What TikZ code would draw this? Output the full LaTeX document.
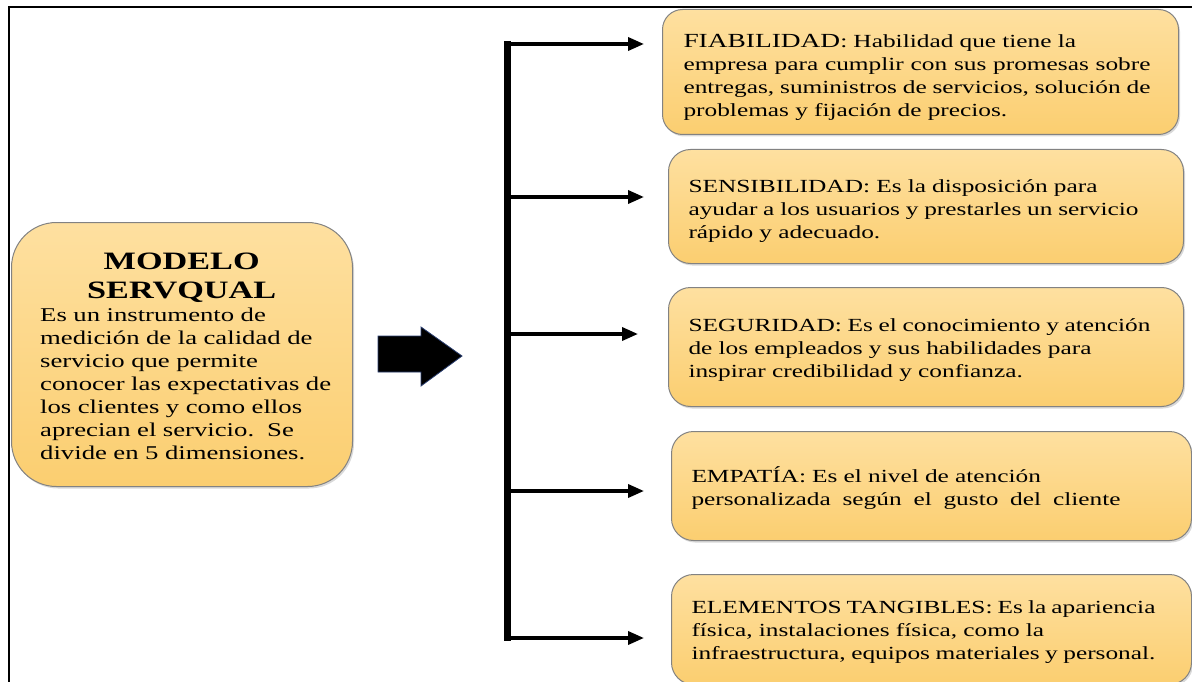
\documentclass[tikz,border=0pt]{standalone}
\usepackage{fontspec}
\setmainfont{Liberation Serif}[FakeStretch=1.37]
\usetikzlibrary{arrows.meta,shadows}
\definecolor{boxtop}{RGB}{254,224,160}
\definecolor{boxbot}{RGB}{251,206,112}
\definecolor{boxedge}{RGB}{130,130,130}
\definecolor{arrowedge}{RGB}{40,60,110}
\newcommand\jline[2]{\makebox[#1][s]{\spaceskip=0pt\xspaceskip=0pt\relax #2}}
\newcommand\topgap[1]{\rule{0pt}{#1}}
\begin{document}
\begin{tikzpicture}[x=1pt,y=-1pt,
  dimbox/.style={draw=boxedge, line width=1pt, top color=boxtop, bottom color=boxbot,
    rounded corners=22pt, anchor=north west, align=left, inner xsep=20pt, inner ysep=0pt,
    font=\fontsize{18.5}{23}\selectfont,
    drop shadow={shadow xshift=1.5pt, shadow yshift=-2pt, opacity=0.3}},
  conn/.style={line width=3.5pt, -{Triangle[length=16pt,width=13pt]}},
  barline/.style={line width=7pt},
  framel/.style={line width=2.5pt, black}
]
\useasboundingbox (0,0) rectangle (1192,682);
% frame
\coordinate (fbl) at (9,683);
\coordinate (ftl) at (9,7);
\coordinate (ftr) at (1193,7);
\draw[framel] (fbl) -- (ftl) -- (ftr);

% main box
\node[dimbox, rounded corners=45pt, minimum width=341pt, minimum height=264pt, inner sep=0pt] (modelo) at (11,222) {};
\node[anchor=west, align=left, text width=305pt, inner sep=0pt,
  font=\fontsize{19.5}{23}\selectfont] (modelotext) at (40,356)
  {\makebox[283pt][c]{\fontsize{25}{29}\selectfont\bfseries MODELO}\\[6pt]
   \makebox[283pt][c]{\fontsize{25}{29}\selectfont\bfseries SERVQUAL}\\
   Es un instrumento de\\
   medición de la calidad de\\
   servicio que permite\\
   conocer las expectativas de\\
   los clientes y como ellos\\
   aprecian el servicio.\ \ Se\\
   divide en 5 dimensiones.};

% block arrow
\path[draw=arrowedge, fill=black, line width=0.8pt]
  (378,336) -- (421,336) -- (421,327) -- (462,356) -- (421,386) -- (421,372) -- (378,372) -- cycle;

% dimension boxes
\node[dimbox, rounded corners=20pt, inner xsep=21pt, text width=474pt, minimum height=125pt] (fia) at (662,9)
  {\topgap{23pt}{\fontsize{20}{23}\selectfont FIABILIDAD}: Habilidad que tiene la\\
   \jline{467pt}{empresa para cumplir con sus promesas sobre}\\
   \jline{467pt}{entregas, suministros de servicios, solución de}\\
   problemas y fijación de precios.};
\node[dimbox, text width=475pt, minimum height=114pt] (sens) at (668,149)
  {\topgap{21.5pt}SENSIBILIDAD: Es la disposición para\\
   \jline{450pt}{ayudar a los usuarios y prestarles un servicio}\\
   rápido y adecuado.};
\node[dimbox, text width=475pt, minimum height=119pt] (seg) at (668,287)
  {\topgap{19.5pt}\jline{462pt}{SEGURIDAD: Es el conocimiento y atención}\\
   de los empleados y sus habilidades para\\
   inspirar credibilidad y confianza.};
\node[dimbox, text width=480pt, minimum height=109pt] (emp) at (671,431)
  {\topgap{20.5pt}EMPATÍA: Es el nivel de atención\\
   \jline{429pt}{personalizada según el gusto del cliente}};
\node[dimbox, text width=480pt, minimum height=110pt] (tang) at (671,574)
  {\topgap{18.5pt}\jline{464pt}{ELEMENTOS TANGIBLES: Es la apariencia}\\
   física, instalaciones física, como la\\
   \jline{464pt}{infraestructura, equipos materiales y personal.}};

% connectors
\coordinate (bartop) at (507,41);
\coordinate (barbot) at (507,641);
\draw[barline] (bartop) -- (barbot);
\coordinate (s1) at (504,44);  \coordinate (e1) at (644,44);
\coordinate (s2) at (511,197); \coordinate (e2) at (644,197);
\coordinate (s3) at (511,334); \coordinate (e3) at (638,334);
\coordinate (s4) at (511,491); \coordinate (e4) at (644,491);
\coordinate (s5) at (511,638); \coordinate (e5) at (644,638);
\draw[conn] (s1) -- (e1);
\draw[conn] (s2) -- (e2);
\draw[conn] (s3) -- (e3);
\draw[conn] (s4) -- (e4);
\draw[conn] (s5) -- (e5);
\end{tikzpicture}
\end{document}
